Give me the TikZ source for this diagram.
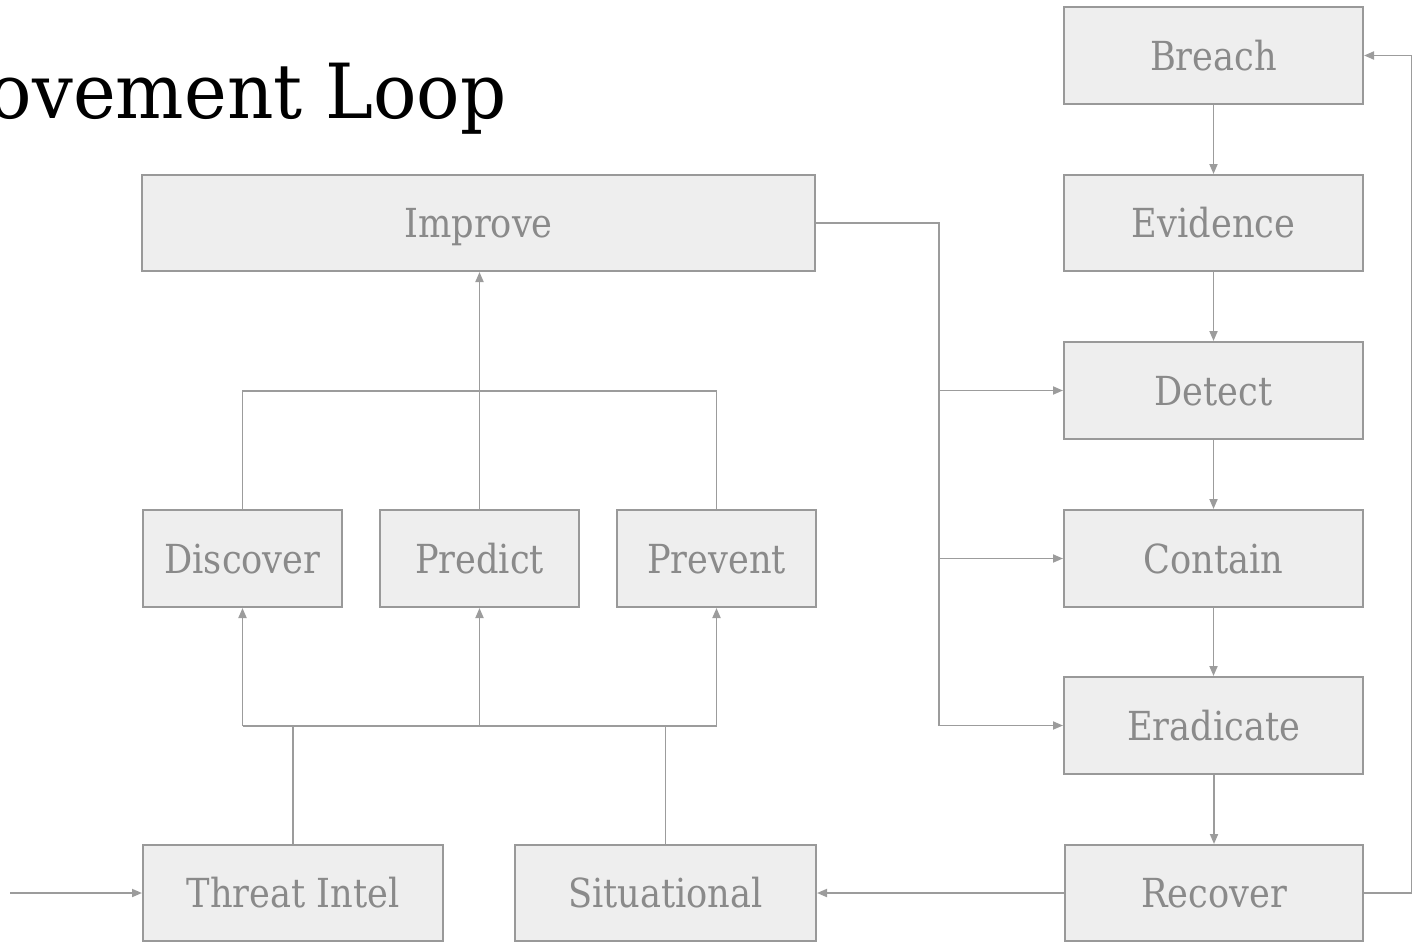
\documentclass[tikz,border=0pt]{standalone}
\usepackage{fontspec}
\setmainfont{DejaVu Serif}[FakeStretch=0.88]
\newfontfamily\titlefont{DejaVu Serif}[FakeStretch=0.95]
\usetikzlibrary{arrows.meta,calc}
\definecolor{boxfill}{HTML}{EEEEEE}
\definecolor{boxline}{HTML}{999999}
\definecolor{boxtext}{HTML}{8A8A8A}
\definecolor{conncol}{HTML}{9C9C9C}
\begin{document}
\begin{tikzpicture}[x=0.5pt,y=-0.5pt,
  box/.style={draw=boxline,line width=1pt,fill=boxfill,text=boxtext,inner sep=0pt,
    text height=14.6pt,text depth=0pt,
    font=\fontsize{20}{24}\selectfont},
  conn/.style={draw=conncol,line width=0.9pt},
  arr/.style={conn,-{Triangle[length=5pt,width=4pt]}}]
\useasboundingbox (0,0) rectangle (1412,942);
\begin{scope}
\clip (0,0) rectangle (1412,942);
\node[anchor=base east,font=\titlefont\fontsize{38}{44}\selectfont,text=black,inner sep=0pt] (title) at (507,118) {ovement Loop};
\end{scope}
% right column
\node[box,minimum width=149.5pt,minimum height=48.5pt] (breach) at (1213.5,55.5) {Breach};
\node[box,minimum width=149.5pt,minimum height=48pt] (evidence) at (1213.5,223) {Evidence};
\node[box,minimum width=149.5pt,minimum height=48.5pt] (detect) at (1213.5,390.5) {Detect};
\node[box,minimum width=149.5pt,minimum height=48.5pt] (contain) at (1213.5,558.5) {Contain};
\node[box,minimum width=149.5pt,minimum height=48.5pt] (eradicate) at (1213.5,725.5) {Eradicate};
\node[box,minimum width=149pt,minimum height=48pt] (recover) at (1214,893) {Recover};
% left part
\node[box,minimum width=336.5pt,minimum height=48pt] (improve) at (478.5,223) {Improve};
\node[box,minimum width=99.5pt,minimum height=48.5pt] (discover) at (242.5,558.5) {Discover};
\node[box,minimum width=99.5pt,minimum height=48.5pt] (predict) at (479.5,558.5) {Predict};
\node[box,minimum width=99.5pt,minimum height=48.5pt] (prevent) at (716.5,558.5) {Prevent};
\node[box,minimum width=150pt,minimum height=48pt] (threat) at (293,893) {Threat Intel};
\node[box,minimum width=150.5pt,minimum height=48pt] (situational) at (665.5,893) {Situational};
% chain
\draw[arr] (breach) -- (evidence);
\draw[arr] (evidence) -- (detect);
\draw[arr] (detect) -- (contain);
\draw[arr] (contain) -- (eradicate);
\draw[arr] (eradicate.south -| recover.north) -- (recover.north);
\draw[arr] (recover.east) -- ++(48,0) |- (breach.east);
\draw[arr] (recover.west) -- (situational.east);
\coordinate (in) at (10,893);
\draw[arr] (in) -- (threat.west);
% improve to response
\coordinate (bx) at (939,0);
\draw[arr] (improve.east) -- (improve.east -| bx) |- (eradicate.west);
\draw[arr] (bx |- detect.west) -- (detect.west);
\draw[arr] (bx |- contain.west) -- (contain.west);
% top tree
\coordinate (tb) at (0,391);
\draw[arr] (predict.north) -- (predict.north |- improve.south);
\draw[conn] (discover.north) |- (prevent.north |- tb) -- (prevent.north);
% bottom bus
\coordinate (bb) at (0,726);
\draw[conn] (threat.north) -- (threat.north |- bb);
\draw[conn] (situational.north) -- (situational.north |- bb);
\draw[conn] (discover.south |- bb) -- (prevent.south |- bb);
\draw[arr] (discover.south |- bb) -- (discover.south);
\draw[arr] (predict.south |- bb) -- (predict.south);
\draw[arr] (prevent.south |- bb) -- (prevent.south);
\end{tikzpicture}
\end{document}
